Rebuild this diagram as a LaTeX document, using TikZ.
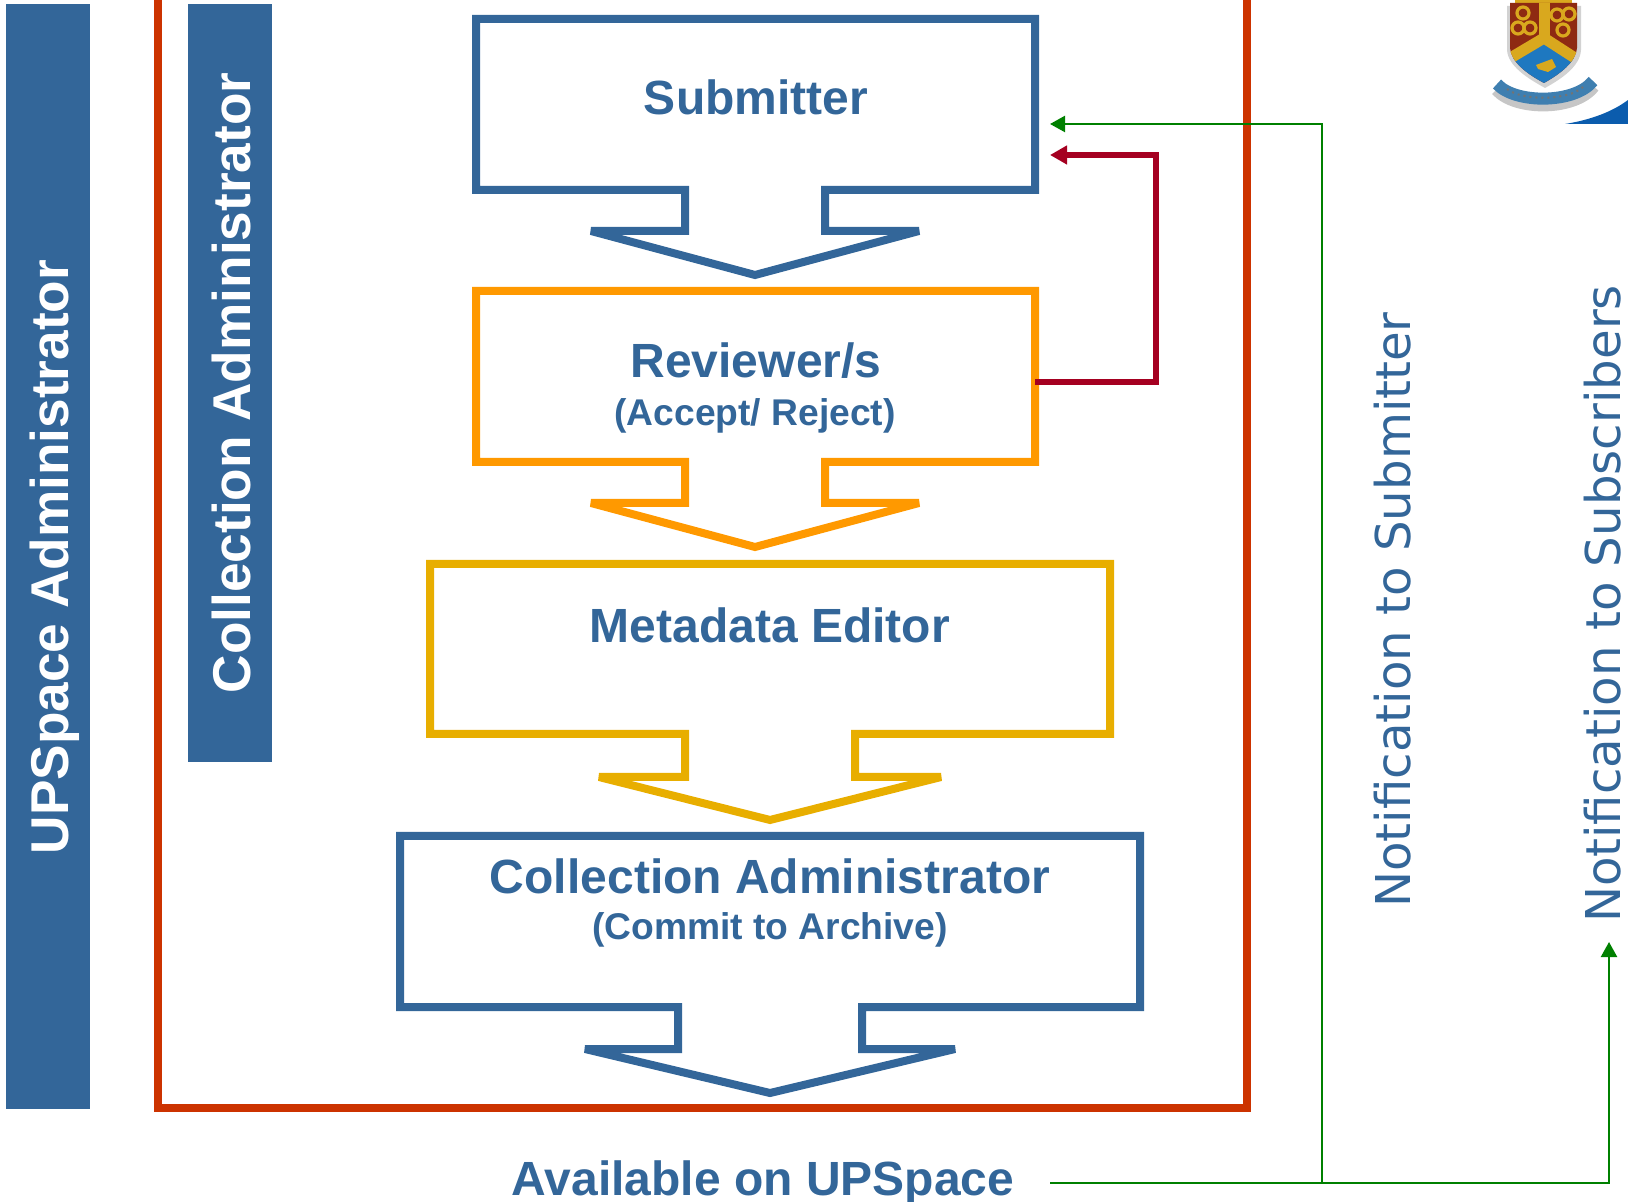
\documentclass[tikz,border=0pt]{standalone}
\usepackage{fontspec}
\setmainfont{Liberation Sans}
\newfontfamily\notefont{DejaVu Sans}
\usetikzlibrary{arrows.meta}
\definecolor{upblue}{HTML}{336699}
\definecolor{framered}{HTML}{CC3300}
\definecolor{revorange}{HTML}{FF9900}
\definecolor{metagold}{HTML}{E8AE00}
\definecolor{backred}{HTML}{A50021}
\definecolor{notegreen}{HTML}{008000}
\definecolor{crestred}{HTML}{8E2A12}
\definecolor{crestgold}{HTML}{D9A81E}
\definecolor{crestblue}{HTML}{1E78C0}
\definecolor{scrollblue}{HTML}{3F7FB0}
\definecolor{swooshblue}{HTML}{0B5CAD}
\tikzset{
  callout/.style={draw=#1,line width=4pt,miter limit=4,fill=white},
  sidebar/.style={fill=upblue,draw=none},
  sidetext/.style={text=white,font=\fontsize{26.6pt}{30pt}\selectfont\bfseries,rotate=90,inner sep=0pt},
  headtext/.style={text=upblue,font=\fontsize{24pt}{28pt}\selectfont\bfseries,inner sep=0pt},
  subtext/.style={text=upblue,font=\fontsize{18.6pt}{22pt}\selectfont\bfseries,inner sep=0pt},
  notetext/.style={text=upblue,font=\fontsize{24pt}{30pt}\selectfont\notefont,rotate=90,inner sep=0pt},
  backline/.style={draw=backred,line width=2.8pt,-{Triangle[length=8.5pt,width=9pt]}},
  noteline/.style={draw=notegreen,line width=1.15pt},
  notearrow/.style={noteline,-{Triangle[length=7.5pt,width=8pt]}}
}
\begin{document}
\begin{tikzpicture}[x=0.5pt,y=-0.5pt]
\useasboundingbox (0,0) rectangle (1628,1202);
% side bars and frame
\fill[sidebar] (6,4) rectangle (90,1109);
\fill[sidebar] (188,4) rectangle (272,762);
\begin{scope}
\clip (0,0) rectangle (1628,1202);
\draw[framered,line width=4pt] (158,-10) -- (158,1108) -- (1247,1108) -- (1247,-10);
\end{scope}
% callouts
\draw[callout=upblue] (476,19) -- (1035,19) -- (1035,190) -- (825,190) -- (825,231) -- (919,231) -- (755,275) -- (591,231) -- (685,231) -- (685,190) -- (476,190) -- cycle;
\draw[callout=revorange] (476,291) -- (1035,291) -- (1035,462) -- (825,462) -- (825,503) -- (919,503) -- (755,547) -- (591,503) -- (685,503) -- (685,462) -- (476,462) -- cycle;
\draw[callout=metagold] (430,564) -- (1110,564) -- (1110,734) -- (855,734) -- (855,777) -- (941,777) -- (770,820) -- (599,777) -- (685,777) -- (685,734) -- (430,734) -- cycle;
\draw[callout=upblue] (400,836) -- (1140,836) -- (1140,1007) -- (862,1007) -- (862,1049) -- (955,1049) -- (770,1093) -- (585,1049) -- (678,1049) -- (678,1007) -- (400,1007) -- cycle;
% texts
\node[sidetext] (upadmin) at (55,557) {UPSpace Administrator};
\node[sidetext] (coladmin) at (231,383) {Collection Administrator};
\node[headtext] (submitter) at (756,97) {Submitter};
\node[headtext] (reviewer) at (756,361) {Reviewer/s};
\node[subtext] (accept) at (755,416) {(Accept/ Reject)};
\node[headtext] (metadata) at (770,625) {Metadata Editor};
\node[headtext] (coladminbox) at (770,876) {Collection Administrator};
\node[subtext] (commit) at (770,930) {(Commit to Archive)};
\node[headtext] (available) at (763,1183) {Available on UPSpace};
\node[notetext] (notesub) at (1393,610) {\scalebox{1.005}[1]{Notification to Submitter}};
\node[notetext] (notesubs) at (1603,604) {\scalebox{1.005}[1]{Notification to Subscribers}};
% connectors
\coordinate (revout) at (1035,382);
\coordinate (redturn) at (1156,382);
\coordinate (redtop) at (1156,155);
\coordinate (redtip) at (1050,155);
\draw[backline] (revout) -- (redturn) -- (redtop) -- (redtip);
\coordinate (greenstart) at (1050,1183);
\coordinate (greenjoin) at (1322,1183);
\coordinate (greencorner) at (1609,1183);
\coordinate (greentipup) at (1609,942);
\coordinate (greentop) at (1322,124);
\coordinate (greentipleft) at (1050,124);
\draw[notearrow] (greenstart) -- (greencorner) -- (greentipup);
\draw[notearrow] (greenjoin) -- (greentop) -- (greentipleft);
% crest
\fill[gray!35] (1507,6) -- (1581,6) -- (1581,50) .. controls (1580,66) and (1563,78) .. (1545,88) .. controls (1527,78) and (1508,66) .. (1507,50) -- cycle;
\draw[gray!45,line width=7pt] (1497,89) .. controls (1515,110) and (1575,110) .. (1593,86);
\fill[crestgold] (1515,0) rectangle (1572,4);
\fill[crestred] (1510,3) -- (1577,3) -- (1577,48) .. controls (1576,62) and (1560,74) .. (1544,83) .. controls (1527,74) and (1511,62) .. (1510,48) -- cycle;
\begin{scope}
\clip (1510,3) -- (1577,3) -- (1577,48) .. controls (1576,62) and (1560,74) .. (1544,83) .. controls (1527,74) and (1511,62) .. (1510,48) -- cycle;
\fill[crestblue] (1505,62) -- (1544,42) -- (1582,62) -- (1582,90) -- (1505,90) -- cycle;
\draw[crestgold,line width=5.5pt] (1507,60) -- (1544,38) -- (1578,60);
\draw[crestgold,line width=5.5pt] (1544,38) -- (1544,0);
\fill[crestgold] (1536,65) -- (1552,59) -- (1556,67) -- (1548,72) -- (1538,69) -- cycle;
\foreach \cx/\cy in {1523/13,1557/15,1569/14,1518/28,1530/28,1563/30}
  \draw[crestgold,line width=1.6pt] (\cx,\cy) circle[radius=6];
\end{scope}
\draw[scrollblue,line width=6pt] (1497,84) .. controls (1515,104) and (1575,104) .. (1593,81);
\draw[black!55,line width=1pt,dotted] (1507,89) .. controls (1522,101) and (1568,101) .. (1583,87);
\fill[swooshblue] (1565,124) .. controls (1590,120) and (1612,112) .. (1628,100) -- (1628,124) -- cycle;
\end{tikzpicture}
\end{document}
